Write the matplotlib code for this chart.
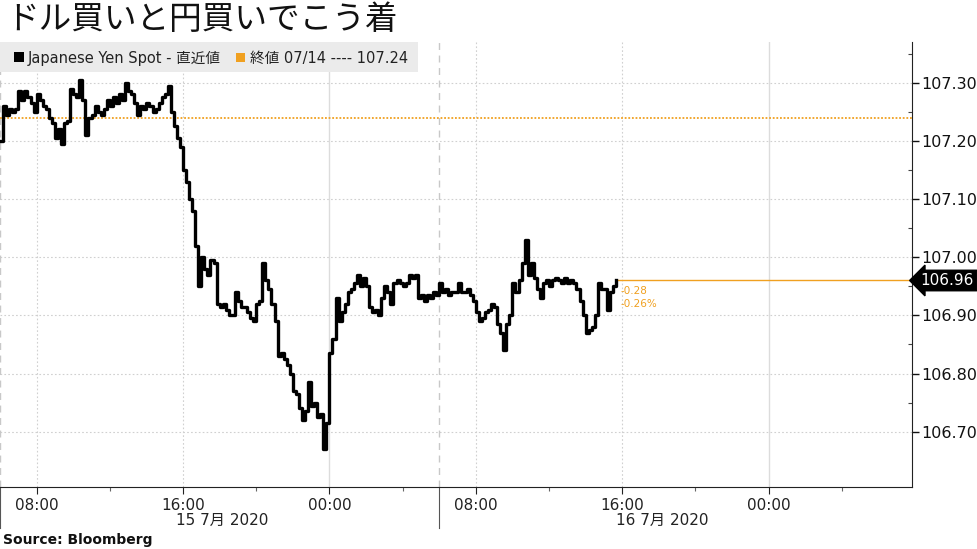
import matplotlib

matplotlib.use("Agg")

import matplotlib.dates as mdates
import matplotlib.pyplot as plt
import matplotlib.transforms as mtransforms
import pandas as pd
from matplotlib.patches import Rectangle

plt.rcParams["font.family"] = ["DejaVu Sans", "Noto Sans CJK JP"]

TITLE = "ドル買いと円買いでこう着"
SERIES_NAME = "Japanese Yen Spot - 直近値"
CLOSE_LABEL = "終値 07/14 ---- 107.24"
SOURCE = "Source: Bloomberg"

START = "2020-07-15 06:00"
STEP = "10min"
X_END = "2020-07-17 07:50"
DAY_STARTS = ["2020-07-15 06:00", "2020-07-16 06:00"]
DAY_LABELS = ["15 7月 2020", "16 7月 2020"]

PREV_CLOSE = 107.24
LAST_PRICE = 106.96
CHANGE_LABELS = ["-0.28", "-0.26%"]
Y_TICKS = [106.70, 106.80, 106.90, 107.00, 107.10, 107.20, 107.30]
Y_MIN, Y_MAX = 106.605, 107.37

# USDJPY spot, one reading every 10 minutes from 06:00 on 15 July
PRICES = [
    107.20, 107.26, 107.245, 107.255, 107.25, 107.255, 107.285, 107.27, 107.285, 107.275,
    107.265, 107.25, 107.28, 107.27, 107.26, 107.255, 107.24, 107.23, 107.205, 107.22,
    107.195, 107.23, 107.235, 107.29, 107.28, 107.275, 107.305, 107.27, 107.21, 107.24,
    107.245, 107.26, 107.25, 107.245, 107.255, 107.27, 107.26, 107.275, 107.265, 107.28,
    107.27, 107.30, 107.285, 107.28, 107.265, 107.245, 107.26, 107.255, 107.265, 107.26,
    107.25, 107.255, 107.265, 107.275, 107.28, 107.295, 107.25, 107.225, 107.205, 107.19,
    107.15, 107.13, 107.10, 107.08, 107.02, 106.95, 107.00, 106.98, 106.97, 106.995,
    106.99, 106.92, 106.915, 106.92, 106.91, 106.90, 106.90, 106.94, 106.925, 106.915,
    106.915, 106.905, 106.895, 106.89, 106.92, 106.925, 106.99, 106.96, 106.945, 106.92,
    106.89, 106.83, 106.835, 106.825, 106.815, 106.80, 106.77, 106.765, 106.74, 106.72,
    106.735, 106.785, 106.745, 106.75, 106.725, 106.73, 106.67, 106.715, 106.835, 106.86,
    106.93, 106.89, 106.905, 106.92, 106.94, 106.945, 106.955, 106.97, 106.95, 106.965,
    106.95, 106.915, 106.905, 106.91, 106.90, 106.93, 106.95, 106.94, 106.92, 106.955,
    106.96, 106.955, 106.95, 106.955, 106.97, 106.965, 106.97, 106.93, 106.935, 106.925,
    106.935, 106.93, 106.94, 106.935, 106.955, 106.94, 106.945, 106.935, 106.94, 106.94,
    106.955, 106.94, 106.94, 106.945, 106.935, 106.925, 106.905, 106.89, 106.895, 106.905,
    106.91, 106.92, 106.915, 106.885, 106.87, 106.84, 106.885, 106.90, 106.955, 106.94,
    106.96, 106.99, 107.03, 106.97, 106.99, 106.965, 106.945, 106.93, 106.955, 106.96,
    106.95, 106.96, 106.965, 106.96, 106.955, 106.965, 106.955, 106.96, 106.955, 106.945,
    106.925, 106.90, 106.87, 106.875, 106.88, 106.90, 106.955, 106.945, 106.945, 106.91,
    106.94, 106.95, 106.96,
]

ORANGE = "#f0a020"
GRID = "#d0d0d0"
W, H = 977, 549


def px(x, y):
    return x / W, 1 - y / H


times = pd.date_range(START, periods=len(PRICES), freq=STEP)

fig = plt.figure(figsize=(W / 100, H / 100), dpi=100)
ax = fig.add_axes([0, 1 - 487 / H, 912 / W, (487 - 42) / H])

ax.set_xlim(pd.Timestamp(START), pd.Timestamp(X_END))
ax.set_ylim(Y_MIN, Y_MAX)

# grid: dotted horizontals, dotted 08/16h, solid midnight, dashed day starts
for yv in Y_TICKS:
    ax.axhline(yv, color=GRID, lw=0.8, ls=(0, (1.5, 2)), zorder=0)
for t in pd.date_range("2020-07-15 08:00", X_END, freq="8h"):
    if t.hour == 0:
        ax.axvline(t, color="#dcdcdc", lw=1.0, zorder=0)
    else:
        ax.axvline(t, color=GRID, lw=0.8, ls=(0, (1.5, 2)), zorder=0)
for d in DAY_STARTS:
    ax.axvline(pd.Timestamp(d), color="#c8c8c8", lw=1.0, ls=(0, (5, 4)), zorder=0)
    ax.axvline(pd.Timestamp(d), ymin=-0.093, ymax=0, color="#555555", lw=0.8, clip_on=False)

ax.axhline(PREV_CLOSE, color=ORANGE, lw=1.3, ls=(0, (1, 1)), zorder=1)
ax.plot([times[-1], pd.Timestamp(X_END)], [LAST_PRICE, LAST_PRICE], color=ORANGE, lw=1.0, zorder=1)
ax.plot(times, PRICES, color="black", lw=2.4, drawstyle="steps-post", zorder=3)

ax.text(times[-1] + pd.Timedelta("15min"), LAST_PRICE - 0.018, CHANGE_LABELS[0],
        color=ORANGE, fontsize=7.5, va="center", ha="left")
ax.text(times[-1] + pd.Timedelta("15min"), LAST_PRICE - 0.04, CHANGE_LABELS[1],
        color=ORANGE, fontsize=7.5, va="center", ha="left")

# axes styling
for side in ("top", "left"):
    ax.spines[side].set_visible(False)
ax.spines["right"].set_color("#222222")
ax.spines["bottom"].set_color("#222222")
ax.yaxis.tick_right()
ax.set_yticks(Y_TICKS)
ax.set_yticklabels([f"{v:.2f}" for v in Y_TICKS])
ax.set_yticks([v + 0.05 for v in Y_TICKS], minor=True)
ax.tick_params(axis="y", which="major", length=5, width=1, labelsize=11.5, pad=2, colors="#111111")
ax.tick_params(axis="y", which="minor", length=3, width=0.8, direction="in", colors="#444444")

ax.xaxis.set_major_locator(mdates.HourLocator(byhour=[0, 8, 16]))
ax.xaxis.set_major_formatter(mdates.DateFormatter("%H:%M"))
ax.xaxis.set_minor_locator(mdates.HourLocator(byhour=[4, 12, 20]))
ax.tick_params(axis="x", which="major", length=5, width=0.8, labelsize=11, pad=3, colors="#222222")
ax.tick_params(axis="x", which="minor", length=3, width=0.8, colors="#666666")

# last price tag
trans = mtransforms.blended_transform_factory(ax.transAxes, ax.transData)
ax.text(1.0095, LAST_PRICE, f"{LAST_PRICE:.2f}", transform=trans, color="white", fontsize=11,
        va="center", ha="left", clip_on=False,
        bbox=dict(boxstyle="larrow,pad=0.18", fc="black", ec="black"))

# legend bar
fig.add_artist(Rectangle(px(0, 72), 418 / W, 30 / H, transform=fig.transFigure,
                         fc="#ebebeb", ec="none", zorder=5))
fig.add_artist(Rectangle(px(14, 62), 10 / W, 10 / H, transform=fig.transFigure,
                         fc="black", ec="none", zorder=6))
fig.add_artist(Rectangle(px(236, 62), 9 / W, 9 / H, transform=fig.transFigure,
                         fc=ORANGE, ec="none", zorder=6))
fig.text(*px(28, 58), SERIES_NAME, fontsize=10.5, va="center", ha="left", color="#222222", zorder=7)
fig.text(*px(250, 58), CLOSE_LABEL, fontsize=10.5, va="center", ha="left", color="#222222", zorder=7)

# title, day labels, source
fig.text(*px(6, 20), TITLE, fontsize=23.5, va="center", ha="left", color="#111111",
         family=["Noto Sans CJK JP", "DejaVu Sans"])
fig.text(*px(222, 520), DAY_LABELS[0], fontsize=11, va="center", ha="center", color="#222222")
fig.text(*px(662, 520), DAY_LABELS[1], fontsize=11, va="center", ha="center", color="#222222")
fig.text(*px(3, 540), SOURCE, fontsize=10, fontweight="bold", va="center", ha="left", color="#111111")

fig.savefig("out.png", dpi=100)
